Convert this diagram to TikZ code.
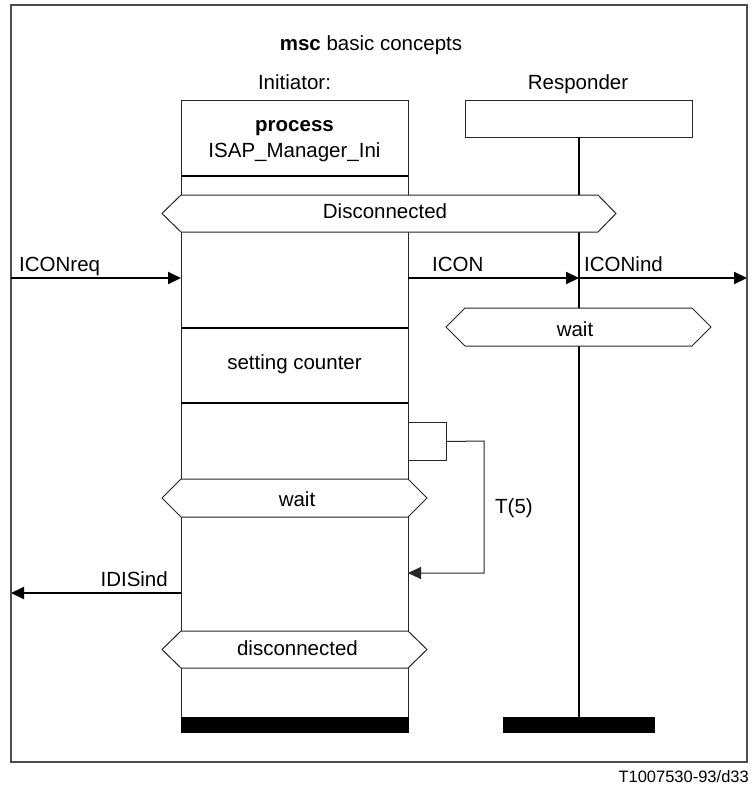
\documentclass[tikz,border=0pt]{standalone}
\usepackage{fontspec}
\setmainfont{Liberation Sans}
\usetikzlibrary{arrows.meta}
\begin{document}
\begin{tikzpicture}[x=1pt,y=-1pt,
  instline/.style={line width=1pt, draw=black!85},
  heavyline/.style={line width=2pt, draw=black},
  msg/.style={line width=2pt, draw=black, -{Triangle[length=13pt,width=12pt]}},
  timerline/.style={line width=1pt, draw=black!85, -{Triangle[length=13pt,width=12pt]}},
  cond/.style={line width=1pt, draw=black!85, fill=white},
  lbl/.style={inner sep=0pt, font=\fontsize{20.5}{24}\selectfont},
  smalllbl/.style={inner sep=0pt, font=\fontsize{16.5}{20}\selectfont},
  endbar/.style={fill=black, draw=none}]
\useasboundingbox (0,0) rectangle (750,787);

% diagram frame and heading
\draw[line width=1.5pt, draw=black!70] (11,5) rectangle (747,762);
\node[lbl, anchor=base] (title) at (371,50) {\textbf{msc} basic concepts};

% Initiator instance
\node[lbl, anchor=base] (inilabel) at (294.5,89) {Initiator:};
\node[instline, draw, anchor=north west, inner sep=0pt,
      minimum width=227pt, minimum height=76pt] (inihead) at (181,100) {};
\node[lbl, anchor=base] (iniproc) at (294.5,131) {\textbf{process}};
\node[lbl, anchor=base] (ininame) at (294.5,157) {ISAP\_Manager\_Ini};
\draw[instline] (181,176) -- (181,717);
\draw[instline] (408,176) -- (408,717);
\draw[heavyline] (181,176) -- (408,176);
\draw[heavyline] (181,328) -- (408,328);
\draw[heavyline] (181,403) -- (408,403);
\fill[endbar] (181,717) rectangle (409,733);
\node[lbl, anchor=base] (setcnt) at (294.5,369.5) {setting counter};

% Responder instance
\node[lbl, anchor=base] (resplabel) at (578,89) {Responder};
\node[instline, draw, anchor=north west, inner sep=0pt,
      minimum width=227pt, minimum height=37pt] (resphead) at (465,100) {};
\draw[heavyline] (579,137) -- (579,717);
\fill[endbar] (503,717) rectangle (655,733);

% conditions
\draw[cond] (181,195) -- (598,195) -- (616,213.5) -- (598,232) -- (181,232) -- (162,213.5) -- cycle;
\node[lbl, anchor=base] (condA) at (385,218) {Disconnected};
\draw[cond] (465,308) -- (692,308) -- (711,327) -- (692,346) -- (465,346) -- (446,327) -- cycle;
\node[lbl, anchor=base] (condB) at (575,336) {wait};
\draw[cond] (181,479) -- (408,479) -- (427,498) -- (408,517) -- (181,517) -- (162,498) -- cycle;
\node[lbl, anchor=base] (condC) at (297,506) {wait};
\draw[cond] (181,631) -- (408,631) -- (427,649.5) -- (408,668) -- (181,668) -- (162,649.5) -- cycle;
\node[lbl, anchor=base] (condD) at (297.5,655) {disconnected};

% message end points
\coordinate (envin) at (11,278);
\coordinate (iniin) at (181,278);
\coordinate (iniout) at (408,278);
\coordinate (respin) at (579,278);
\coordinate (envout) at (747,278);
\coordinate (inidis) at (181,593);
\coordinate (envdis) at (11,593);

% messages
\draw[msg] (envin) -- (iniin);
\draw[msg] (iniout) -- (respin);
\draw[msg] (respin) -- (envout);
\draw[msg] (inidis) -- (envdis);
\node[lbl, anchor=base west] (lreq) at (19,271.5) {ICONreq};
\node[lbl, anchor=base west] (lcon) at (432,271) {ICON};
\node[lbl, anchor=base west] (lind) at (584,271) {ICONind};
\node[lbl, anchor=base east] (ldis) at (168,586) {IDISind};

% timer set and timeout
\node[instline, draw, anchor=north west, inner sep=0pt,
      minimum width=38pt, minimum height=38pt] (timerbox) at (408,422) {};
\coordinate (timeout) at (408,573);
\draw[timerline] (timerbox.east) -- (484,441) -- (484,573) -- (timeout);
\node[lbl, anchor=base west] (ltimer) at (495,513.5) {T(5)};

% figure reference
\node[smalllbl, anchor=base east] (figref) at (749,782) {T1007530-93/d33};
\end{tikzpicture}
\end{document}
